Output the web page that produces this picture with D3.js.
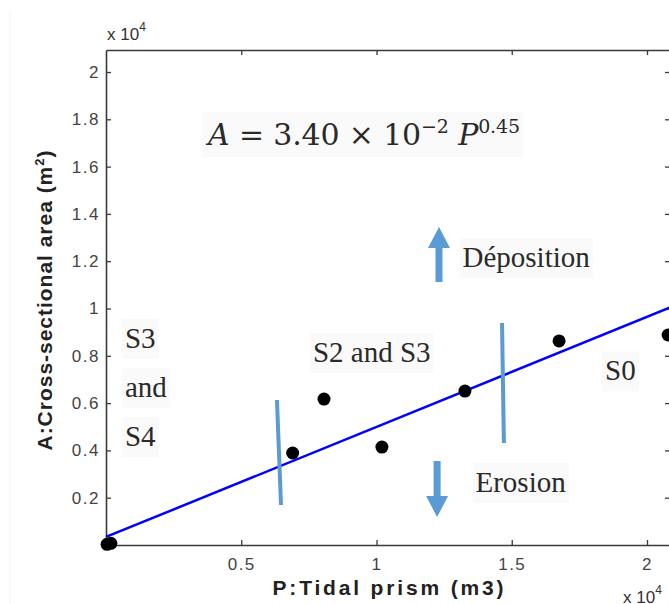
<!DOCTYPE html>
<html>
<head>
<meta charset="UTF-8">
<script src="https://d3js.org/d3.v7.min.js"></script>
<style>
  body { margin: 0; background: #fff; }
  svg { display: block; }
  .tick text { fill: #444; font-family: "Liberation Sans", Arial, sans-serif; font-size: 17px; letter-spacing: 1.5px; }
  .serif { font-family: "Liberation Serif", "Times New Roman", serif; fill: #2a2a2a; }
</style>
</head>
<body>
<svg id="chart" width="669" height="604"></svg>
<script>
// data (P and A in units of 10^4)
const pointsP = [0.004, 0.018, 0.69, 0.806, 1.02, 1.327, 1.675, 2.078];
const pointsA = [0.003, 0.007, 0.389, 0.617, 0.414, 0.651, 0.863, 0.888];
const fitP = [0, 2.1];
const fitA = [0.034, 1.011];
const xTicks = [0.5, 1, 1.5, 2];
const yTicks = [0.2, 0.4, 0.6, 0.8, 1, 1.2, 1.4, 1.6, 1.8, 2];
// zone boundaries: [P top, A top, P bottom, A bottom]
const boundaries = [[0.632, 0.613, 0.647, 0.169], [1.464, 0.939, 1.471, 0.431]];
// arrows: [P, A tail, A tip]
const arrows = [[1.231, 1.112, 1.345], [1.224, 0.355, 0.118]];
const labels = [
  { text: "Déposition", p: 1.318, a: 1.174 },
  { text: "Erosion", p: 1.366, a: 0.224 },
  { text: "S3", p: 0.07, a: 0.833 },
  { text: "and", p: 0.07, a: 0.626 },
  { text: "S4", p: 0.07, a: 0.419 },
  { text: "S2 and S3", p: 0.765, a: 0.774 },
  { text: "S0", p: 1.845, a: 0.696 }
];

const svg = d3.select("#chart");
const x = d3.scaleLinear().domain([0, 2.085]).range([106, 670]);
const y = d3.scaleLinear().domain([0, 2.093]).range([545, 50]);
const axisColor = "#3a3a3a";

// faint page edge
svg.append("line").attr("x1", 10).attr("x2", 10).attr("y1", 12).attr("y2", 604)
  .attr("stroke", "#f3f3f3").attr("stroke-width", 1);

// text boxes behind labels
const boxes = svg.append("g");

// axes
const gx = svg.append("g").attr("transform", `translate(0,${y(0)})`)
  .call(d3.axisBottom(x).tickValues(xTicks).tickSizeInner(-5).tickSizeOuter(0).tickPadding(10).tickFormat(d3.format("")));
const gy = svg.append("g").attr("transform", `translate(${x(0)},0)`)
  .call(d3.axisLeft(y).tickValues(yTicks).tickSizeInner(-5).tickSizeOuter(0).tickPadding(6).tickFormat(d3.format("")));
const gt = svg.append("g").attr("transform", `translate(0,${y(2.093)})`)
  .call(d3.axisTop(x).tickValues(xTicks).tickSizeInner(-5).tickSizeOuter(0).tickFormat(""));
const gr = svg.append("g").attr("transform", `translate(${x(2.085) + 1},0)`)
  .call(d3.axisRight(y).tickValues(yTicks).tickSizeInner(-6).tickSizeOuter(0).tickFormat(""));
[gx, gy, gt, gr].forEach(g => {
  g.select(".domain").attr("stroke", axisColor).attr("stroke-width", 1.6);
  g.selectAll(".tick line").attr("stroke", axisColor).attr("stroke-width", 1.3);
});
gx.selectAll(".tick text").attr("dy", "0.9em");

// fitted line
svg.append("path")
  .datum(fitP.map((p, i) => [p, fitA[i]]))
  .attr("d", d3.line().x(d => x(d[0])).y(d => y(d[1])))
  .attr("stroke", "#0000ff").attr("stroke-width", 2.5).attr("fill", "none");

// zone boundaries
svg.selectAll(".bound").data(boundaries).enter().append("line")
  .attr("x1", d => x(d[0])).attr("y1", d => y(d[1]))
  .attr("x2", d => x(d[2])).attr("y2", d => y(d[3]))
  .attr("stroke", "#5b9bd5").attr("stroke-width", 4);

// arrows
const arrowColor = "#5b9bd5";
arrows.forEach(a => {
  const px = x(a[0]), y0 = y(a[1]), y1 = y(a[2]);
  const dir = y1 < y0 ? -1 : 1;
  const headLen = 21, headHalf = 11;
  svg.append("line").attr("x1", px).attr("x2", px)
    .attr("y1", y0).attr("y2", y1 - dir * headLen + dir * 2)
    .attr("stroke", arrowColor).attr("stroke-width", 7);
  svg.append("path")
    .attr("d", `M${px - headHalf},${y1 - dir * headLen} L${px + headHalf},${y1 - dir * headLen} L${px},${y1} Z`)
    .attr("fill", arrowColor);
});

// points
svg.selectAll(".pt").data(pointsP).enter().append("circle")
  .attr("cx", (d, i) => x(d)).attr("cy", (d, i) => y(pointsA[i]))
  .attr("r", 6.5).attr("fill", "#000");

// labels
labels.forEach(l => {
  svg.append("text").attr("class", "serif lbl")
    .attr("x", x(l.p)).attr("y", y(l.a))
    .attr("font-size", 29).text(l.text);
});

// equation
const eq = svg.append("text").attr("class", "serif lbl")
  .attr("x", 208).attr("y", 145).attr("font-size", 30)
  .style("font-family", "'DejaVu Serif', serif").attr("fill", "#333")
  .attr("textLength", 312).attr("lengthAdjust", "spacing");
eq.append("tspan").attr("font-style", "italic").text("A");
eq.append("tspan").text(" = 3.40 × 10");
eq.append("tspan").attr("font-size", 19).attr("dy", -12).text("−2");
eq.append("tspan").attr("font-style", "italic").attr("dy", 12).text(" P");
eq.append("tspan").attr("font-size", 19).attr("dy", -12).text("0.45");

svg.selectAll(".lbl").each(function() {
  const b = this.getBBox();
  boxes.append("rect").attr("x", b.x - 3).attr("y", b.y - 3)
    .attr("width", b.width + 6).attr("height", b.height + 8).attr("fill", "#fafafa");
});

// axis titles
svg.append("text")
  .attr("transform", `translate(52,${(y(0) + y(2.093)) / 2 + 3}) rotate(-90)`)
  .attr("text-anchor", "middle")
  .style("font-family", "'Liberation Sans', Arial, sans-serif").style("font-weight", "bold")
  .attr("font-size", 21).attr("textLength", 300).attr("lengthAdjust", "spacing")
  .attr("fill", "#222")
  .html("A:Cross-sectional area (m<tspan dy='-8' font-size='13'>2</tspan><tspan dy='8'>)</tspan>");
svg.append("text")
  .attr("x", 388).attr("y", 595).attr("text-anchor", "middle")
  .style("font-family", "'Liberation Sans', Arial, sans-serif").style("font-weight", "bold")
  .attr("font-size", 21).attr("textLength", 231).attr("lengthAdjust", "spacing")
  .attr("fill", "#222").text("P:Tidal prism (m3)");

// exponent labels
function expLabel(px, py) {
  const t = svg.append("text").attr("x", px).attr("y", py)
    .style("font-family", "'Liberation Sans', Arial, sans-serif").attr("font-size", 17)
    .attr("fill", "#333");
  t.append("tspan").text("x 10");
  t.append("tspan").attr("font-size", 12).attr("dy", -9).text("4");
}
expLabel(107, 40);
expLabel(623, 603);
</script>
</body>
</html>
